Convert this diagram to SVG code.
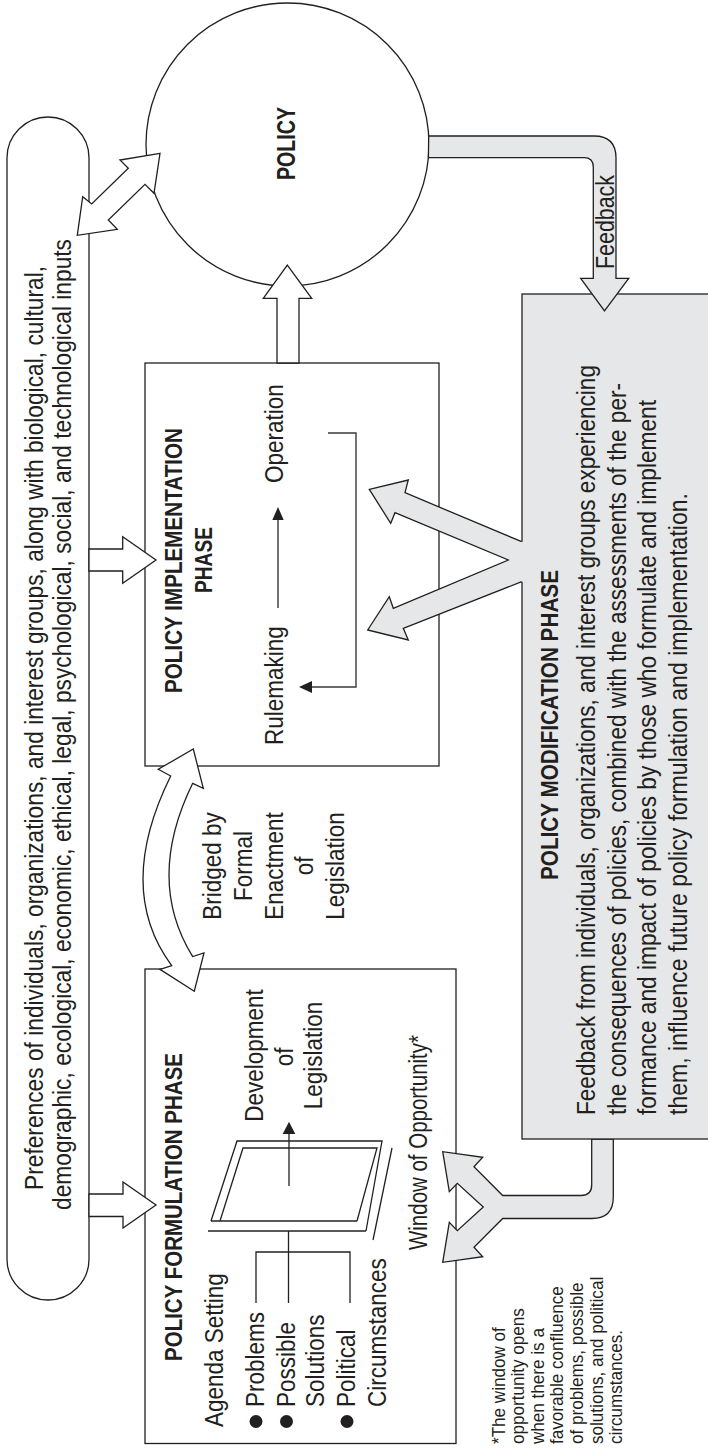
<svg xmlns="http://www.w3.org/2000/svg" width="708" height="1452" viewBox="0 0 708 1452">
<style>
.wf{fill:#fff;stroke:#231f20;stroke-width:1.3;stroke-linejoin:miter}
.gf{fill:#e6e7e8;stroke:#231f20;stroke-width:1.3;stroke-linejoin:miter}
.gn{fill:#e6e7e8;stroke:none}
.ln{fill:none;stroke:#231f20;stroke-width:1.3}
.lg{fill:none;stroke:#3a3a3a;stroke-width:1.4}
.ah{fill:#231f20;stroke:none}
.t{font-family:"Liberation Sans",Arial,sans-serif;font-size:25px;fill:#231f20}
.h{font-weight:bold;font-size:23px}
.fn{font-size:18px}
</style>
<rect x="0" y="0" width="708" height="1452" fill="#fff"/>

<g id="inputs">
<rect x="7" y="117" width="82" height="1183" rx="41" class="wf"/>
<text class="t" transform="translate(43,1190) rotate(-90)" textLength="924" lengthAdjust="spacingAndGlyphs">Preferences of individuals, organizations, and interest groups, along with biological, cultural,</text>
<text class="t" transform="translate(71,1210) rotate(-90)" textLength="971" lengthAdjust="spacingAndGlyphs">demographic, ecological, economic, ethical, legal, psychological, social, and technological inputs</text>
</g>

<g id="policy">
<circle cx="287.5" cy="144.5" r="141.5" class="wf"/>
<text class="t" font-weight="bold" transform="translate(295,143.5) rotate(-90)" text-anchor="middle" textLength="73" lengthAdjust="spacingAndGlyphs">POLICY</text>
</g>

<g id="implementation">
<rect x="145" y="363" width="294" height="403" class="wf"/>
<text class="t h" transform="translate(182,560.5) rotate(-90)" text-anchor="middle" textLength="265" lengthAdjust="spacingAndGlyphs">POLICY IMPLEMENTATION</text>
<text class="t h" transform="translate(212,560) rotate(-90)" text-anchor="middle" textLength="66" lengthAdjust="spacingAndGlyphs">PHASE</text>
<text class="t" transform="translate(283,745) rotate(-90) scale(0.9,1)">Rulemaking</text>
<text class="t" transform="translate(283,483) rotate(-90) scale(0.9,1)">Operation</text>
<line x1="278" y1="608" x2="278" y2="518" class="lg"/>
<polygon points="278,507 272.3,520 283.7,520" class="ah"/>
<path d="M328,433 H356 V687 H311" class="lg"/>
<polygon points="299,687 312,681 312,693" class="ah"/>
</g>

<g id="bridge-label">
<text class="t" text-anchor="middle" transform="translate(221,866) rotate(-90) scale(0.9,1)">Bridged by</text>
<text class="t" text-anchor="middle" transform="translate(252,866) rotate(-90) scale(0.9,1)">Formal</text>
<text class="t" text-anchor="middle" transform="translate(283,866) rotate(-90) scale(0.9,1)">Enactment</text>
<text class="t" text-anchor="middle" transform="translate(313,866) rotate(-90) scale(0.9,1)">of</text>
<text class="t" text-anchor="middle" transform="translate(344,866) rotate(-90) scale(0.9,1)">Legislation</text>
</g>

<g id="formulation">
<rect x="145" y="969" width="311" height="474.5" class="wf"/>
<text class="t h" transform="translate(182,1361) rotate(-90)" textLength="308" lengthAdjust="spacingAndGlyphs">POLICY FORMULATION PHASE</text>
<text class="t" transform="translate(223,1427) rotate(-90) scale(0.9,1)">Agenda Setting</text>
<circle cx="256" cy="1421.5" r="6.5" class="ah"/>
<text class="t" transform="translate(264,1407) rotate(-90) scale(0.9,1)">Problems</text>
<circle cx="286.5" cy="1421.5" r="6.5" class="ah"/>
<text class="t" transform="translate(294.5,1407) rotate(-90) scale(0.9,1)">Possible</text>
<text class="t" transform="translate(324,1407) rotate(-90) scale(0.9,1)">Solutions</text>
<circle cx="347" cy="1421.5" r="6.5" class="ah"/>
<text class="t" transform="translate(355,1407) rotate(-90) scale(0.9,1)">Political</text>
<text class="t" transform="translate(386,1407) rotate(-90) scale(0.9,1)">Circumstances</text>
<path d="M256,1303 V1252 H350 V1303 M288.5,1303 V1231" class="ln"/>
<path d="M208,1231 H366" class="ln"/>
<path d="M211,1221 H357" class="ln"/>
<path d="M211,1221 L237,1141 H382 L366,1231" class="ln"/>
<path d="M220,1221 L243,1148 H377 L357,1221" class="ln"/>
<path d="M392,1148 L373,1240" class="ln"/>
<line x1="289" y1="1186" x2="289" y2="1133" class="ln"/>
<polygon points="289,1121.7 282.7,1134 295.3,1134" class="ah"/>
<text class="t" text-anchor="middle" transform="translate(263,1055.5) rotate(-90) scale(0.9,1)">Development</text>
<text class="t" text-anchor="middle" transform="translate(293,1057) rotate(-90) scale(0.9,1)">of</text>
<text class="t" text-anchor="middle" transform="translate(322,1055.5) rotate(-90) scale(0.9,1)">Legislation</text>
</g>

<g id="window-label">
<text class="t" font-size="22" transform="translate(427,1250) rotate(-90)" textLength="215" lengthAdjust="spacingAndGlyphs">Window of Opportunity*</text>
</g>

<g id="footnote">
<text class="t fn" transform="translate(504.5,1444) rotate(-90) scale(0.95,1)">*The window of</text>
<text class="t fn" transform="translate(524,1444) rotate(-90) scale(0.95,1)">opportunity opens</text>
<text class="t fn" transform="translate(543.5,1444) rotate(-90) scale(0.95,1)">when there is a</text>
<text class="t fn" transform="translate(563,1444) rotate(-90) scale(0.95,1)">favorable confluence</text>
<text class="t fn" transform="translate(583,1444) rotate(-90) scale(0.95,1)">of problems, possible</text>
<text class="t fn" transform="translate(602.5,1444) rotate(-90) scale(0.95,1)">solutions, and political</text>
<text class="t fn" transform="translate(622,1444) rotate(-90) scale(0.95,1)">circumstances.</text>
</g>

<g id="connectors">
<path d="M591.7,1139 V1185 Q591.7,1195.5 581,1195.5 H502.7 L474,1166.7 L482.7,1157.3 L442.7,1151.7 L449.3,1191.7 L457.3,1183.3 L483.3,1207 L457.3,1230.7 L449.3,1222.3 L442.7,1262.3 L482.7,1256.7 L474,1247.3 L502.7,1218.5 H592 Q613.3,1218.5 613.3,1197 V1139 Z" class="gf"/>
</g>

<g id="modification">
<rect x="522" y="294" width="192" height="845" class="gf"/>
<text class="t h" transform="translate(558,880) rotate(-90)" textLength="310" lengthAdjust="spacingAndGlyphs">POLICY MODIFICATION PHASE</text>
<text class="t" transform="translate(595,1115) rotate(-90)" textLength="750" lengthAdjust="spacingAndGlyphs">Feedback from individuals, organizations, and interest groups experiencing</text>
<text class="t" transform="translate(626,1115) rotate(-90)" textLength="732" lengthAdjust="spacingAndGlyphs">the consequences of policies, combined with the assessments of the per-</text>
<text class="t" transform="translate(656,1115) rotate(-90)" textLength="715" lengthAdjust="spacingAndGlyphs">formance and impact of policies by those who formulate and implement</text>
<text class="t" transform="translate(687,1115) rotate(-90)" textLength="622" lengthAdjust="spacingAndGlyphs">them, influence future policy formulation and implementation.</text>
</g>

<g id="connectors-2">
<path d="M428.7,136 H594 Q616,136 616,158 V278.3 H628.7 L604.5,311 L580.7,278.3 H593.3 V167 Q593.3,157.7 584,157.7 H428.4 Z" class="gf"/>
<text class="t" text-anchor="middle" transform="translate(614,222) rotate(-90)" textLength="94" lengthAdjust="spacingAndGlyphs">Feedback</text>
<path d="M524,541.7 L521.7,541.7 L405,492.7 L408.3,480 L369.3,489.3 L390.7,523.3 L395,512.7 L508.3,560 L393.3,608.3 L389.3,596.7 L367.7,630 L408.3,640 L403.3,628.3 L521.7,581.7 L524,581.7 Z" class="gn"/>
<path d="M521.7,541.7 L405,492.7 L408.3,480 L369.3,489.3 L390.7,523.3 L395,512.7 L508.3,560 L393.3,608.3 L389.3,596.7 L367.7,630 L408.3,640 L403.3,628.3 L521.7,581.7" class="ln"/>
<path d="M277,363 V298.3 H263.3 L287.3,265 L311.7,298.3 H299 V363 Z" class="wf"/>
<path d="M89,549 H122.7 V536.7 L156,560 L122.7,583.3 V571 H89 Z" class="wf"/>
<path d="M89,1194 H123 V1182 L156,1205 L123,1228 V1216.5 H89 Z" class="wf"/>
<path d="M160,153.3 L120,160 L128.3,168.3 L91.7,204 L82.7,196.7 L77.3,235.3 L117.3,229.3 L108.3,220 L145,184.3 L154,193.3 Z" class="wf"/>
<path d="M170.7,776 L158.3,769.3 L193.3,749 L203.3,788.3 L192.7,783.3 Q145.3,880 192.7,956.6 L204,953 L194.3,991.2 L160,969.4 L171.7,965.7 Q114.8,889 170.7,776 Z" class="wf"/>
</g>
</svg>
